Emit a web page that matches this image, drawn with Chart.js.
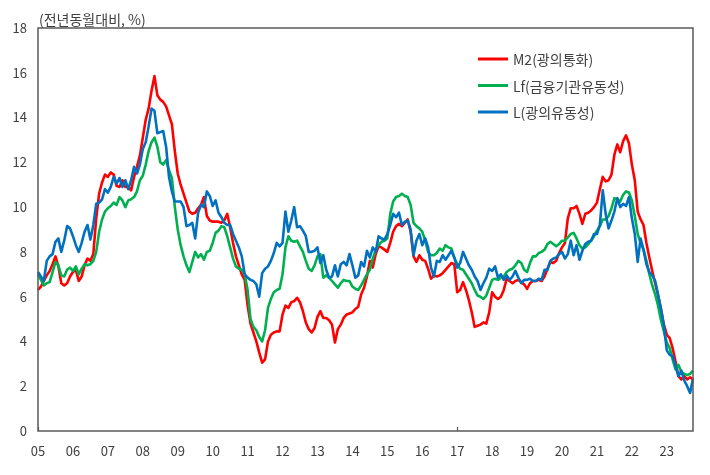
<!DOCTYPE html>
<html>
<head>
<meta charset="utf-8">
<script src="https://cdn.jsdelivr.net/npm/chart.js@4.4.0/dist/chart.umd.min.js"></script>
<style>
  html, body { margin: 0; padding: 0; background: #fff; }
  #wrap { width: 710px; height: 475px; }
</style>
</head>
<body>
<div id="wrap"><canvas id="moneyChart" width="710" height="475"></canvas></div>
<script>
// 연도 라벨 (2005.1 ~ 2023.10, 월별)
const yearLabels = ['05','06','07','08','09','10','11','12','13','14','15','16','17','18','19','20','21','22','23']

// M2(광의통화), 전년동월대비 %
const m2 = [
  6.3, 6.45, 6.7, 6.95, 7.15, 7.45, 7.8, 7.35, 6.6, 6.5, 6.6, 6.9,
  7.1, 7.2, 6.7, 6.9, 7.4, 7.7, 7.6, 7.9, 9.5, 10.6, 11.1, 11.45,
  11.35, 11.55, 11.45, 10.95, 10.9, 11.2, 10.9, 10.9, 10.75, 11.35, 11.8, 12.3,
  13.1, 13.9, 14.4, 15.2, 15.85, 15.0, 14.8, 14.7, 14.5, 14.1, 13.7, 12.5,
  11.5, 11.0, 10.6, 10.2, 9.8, 9.7, 9.75, 9.95, 10.1, 10.45, 9.6, 9.4,
  9.35, 9.35, 9.35, 9.3, 9.4, 9.7, 9.1, 8.4, 7.8, 7.4, 7.0, 6.75,
  5.6, 4.8, 4.4, 4.0, 3.5, 3.05, 3.2, 4.0, 4.3, 4.4, 4.45, 4.45,
  5.2, 5.6, 5.5, 5.75, 5.8, 5.95, 5.75, 5.35, 4.85, 4.55, 4.4, 4.6,
  5.1, 5.35, 5.05, 5.05, 4.95, 4.75, 3.95, 4.55, 4.75, 5.05, 5.2, 5.25,
  5.3, 5.45, 5.55, 6.1, 6.4, 6.9, 7.6, 7.3, 7.9, 8.25, 8.2, 8.1,
  8.0, 8.4, 8.9, 9.15, 9.25, 9.15, 9.3, 9.45, 8.9, 7.8, 7.55, 7.85,
  7.65, 7.6, 7.25, 6.8, 6.95, 6.9, 6.95, 7.05, 7.2, 7.35, 7.5, 7.45,
  6.2, 6.3, 6.65, 6.3, 5.85, 5.3, 4.65, 4.7, 4.75, 4.85, 4.8, 5.3,
  6.2, 6.0, 5.9, 6.0, 6.3, 6.8, 6.7, 6.6, 6.7, 6.75, 6.65, 6.55,
  6.35, 6.6, 6.7, 6.7, 6.75, 6.7, 6.9, 7.25, 7.55, 7.5, 7.6, 7.95,
  8.2, 8.4, 9.5, 9.95, 9.95, 10.05, 9.7, 9.25, 9.7, 9.75, 9.85, 10.0,
  10.2, 10.8, 11.35, 11.15, 11.2, 11.45, 12.35, 12.8, 12.45, 12.95, 13.2, 12.85,
  11.9, 11.2, 9.8, 9.45, 9.2, 8.4, 7.75, 7.15, 6.6, 6.05, 5.45, 4.75,
  4.3, 4.15, 3.7, 3.1, 2.45, 2.3, 2.45, 2.3, 2.4, 2.3
]

// Lf(금융기관유동성)
const lf = [
  7.0, 6.75, 6.5, 6.6, 6.65, 7.1, 7.55, 7.4, 6.95, 6.9, 7.2, 7.3,
  7.15, 7.35, 7.0, 7.25, 7.45, 7.4, 7.45, 7.6, 8.0, 8.9, 9.45, 9.8,
  9.95, 10.05, 10.2, 10.1, 10.45, 10.3, 10.0, 10.3, 10.35, 10.45, 10.7, 11.2,
  11.4, 11.9, 12.5, 12.9, 13.1, 12.7, 12.0, 11.9, 12.1, 11.65, 11.3, 10.0,
  9.0, 8.3, 7.8, 7.4, 7.1, 7.55, 8.0, 7.75, 7.9, 7.65, 8.0, 8.05,
  8.4, 8.85, 8.95, 9.15, 9.1, 8.7, 8.2, 7.7, 7.35, 7.25, 7.2, 7.0,
  6.3, 5.0, 4.65, 4.5, 4.2, 4.0, 4.5, 5.5, 5.9, 6.2, 6.3, 6.35,
  7.0, 8.2, 8.7, 8.5, 8.45, 8.5, 8.25, 8.0, 7.6, 7.25, 7.15, 7.4,
  7.8, 7.9, 6.85, 6.95, 6.85, 6.7, 6.55, 6.4, 6.6, 6.75, 6.7, 6.7,
  6.45, 6.35, 6.3, 6.5, 6.75, 7.0, 7.2, 7.7, 8.1, 8.3, 8.45, 8.5,
  8.6, 9.7, 10.25, 10.45, 10.5, 10.6, 10.5, 10.45, 10.1, 9.3, 9.15, 9.05,
  8.9, 8.5, 8.0, 7.85, 7.85, 7.95, 8.15, 8.05, 8.3, 8.2, 8.15, 7.75,
  7.45, 7.25, 7.2, 7.0, 6.8, 6.6, 6.3, 6.05, 6.0, 5.9, 6.05, 6.4,
  6.75, 6.8, 6.75, 6.85, 6.9, 7.1, 7.2, 7.25, 7.4, 7.6, 7.5, 7.2,
  7.1, 7.5, 7.8, 7.8, 7.95, 8.0, 8.1, 8.35, 8.45, 8.35, 8.25, 8.35,
  8.5, 8.5, 8.65, 8.8, 8.85, 8.6, 8.3, 8.15, 8.2, 8.35, 8.5, 8.7,
  8.95, 9.15, 9.45, 9.45, 9.6, 9.95, 10.4, 10.35, 10.25, 10.55, 10.7, 10.65,
  10.3, 9.6, 8.8, 8.4, 8.1, 7.6, 7.0, 6.5, 6.1, 5.6, 4.95, 4.45,
  3.95, 3.7, 3.2, 2.75, 2.95, 2.65, 2.55, 2.5, 2.55, 2.7
]

// L(광의유동성)
const lq = [
  7.1, 6.9, 6.7, 7.6, 7.8, 7.9, 8.45, 8.6, 8.0, 8.5, 9.15, 9.05,
  8.7, 8.3, 8.0, 8.4, 8.9, 9.2, 8.55, 9.2, 10.15, 10.2, 10.35, 10.8,
  10.65, 10.9, 11.35, 11.05, 11.3, 10.9, 11.2, 10.8, 11.2, 11.8, 11.5, 11.9,
  12.6, 12.9, 13.6, 14.4, 14.3, 13.3, 13.35, 13.4, 12.7, 11.35, 10.7, 10.25,
  10.25, 10.25, 10.0, 9.15, 9.2, 9.3, 8.6, 9.75, 10.1, 10.0, 10.7, 10.5,
  10.05, 10.3, 9.75, 9.55, 9.3, 9.2, 9.2, 8.8, 8.5, 8.2, 7.8, 7.0,
  6.85, 6.75, 6.7, 6.55, 6.0, 7.05, 7.25, 7.35, 7.6, 7.95, 8.4, 8.25,
  8.4, 9.8, 8.9, 9.4, 10.0, 9.1, 9.15, 8.95, 8.7, 8.0, 8.0, 8.05,
  8.2, 7.5, 7.85, 7.2, 6.85, 6.9, 7.4, 6.9, 7.45, 7.55, 7.4, 7.9,
  7.4, 6.85, 6.95, 7.55, 7.35, 8.05, 7.75, 8.2, 8.0, 8.7, 8.6, 8.55,
  8.8, 9.2, 9.7, 9.55, 9.75, 9.2, 9.35, 9.4, 9.0, 7.85, 8.5, 8.8,
  8.3, 8.6, 8.2, 7.3, 6.9, 7.6, 7.55, 7.85, 7.65, 7.85, 8.05, 7.75,
  7.3, 7.5, 8.0, 7.7, 7.4, 7.2, 6.9, 6.7, 6.3, 6.6, 6.85, 7.25,
  7.15, 7.35, 6.85, 7.0, 6.75, 6.95, 6.75, 6.9, 7.15, 6.85, 6.6, 6.75,
  6.75, 6.8, 6.7, 6.7, 6.8, 6.75, 7.2, 7.2, 7.6, 7.7, 7.75, 7.9,
  8.0, 7.7, 7.9, 8.5, 7.85, 8.3, 7.65, 8.05, 8.35, 8.45, 8.5, 8.8,
  8.8, 9.2, 10.75, 9.7, 9.05, 9.4, 9.8, 10.4, 10.0, 10.15, 10.05, 10.45,
  9.5, 8.8, 7.55, 8.6, 8.1, 7.45, 7.1, 6.95, 6.7, 6.1, 5.45, 4.7,
  3.6, 3.4, 3.35, 2.9, 2.45, 2.7, 2.25, 2.0, 1.7, 2.35
]

const seriesNames = ['M2(광의통화)', 'Lf(금융기관유동성)', 'L(광의유동성)']
const seriesColors = ['#ff0000', '#00b050', '#0070c0']
const yTitle = '(전년동월대비, %)'

// 월별 카테고리: 1월에만 연도 표기
const labels = []
yearLabels.forEach(y => { for (let k = 0; k < 12; k++) labels.push(k === 0 ? y : '') })
labels.length = m2.length

const FONT = '"Noto Sans CJK KR", "Open Sans", sans-serif'
const INK = '#404040'

// 외곽선, 안쪽 눈금, 범례, 축 제목
const framePlugin = {
  id: 'frame',
  afterDatasetsDraw(chart) {
    const { ctx, chartArea: a, scales: { x } } = chart
    ctx.save()
    ctx.strokeStyle = '#595959'
    ctx.lineWidth = 1.5
    ctx.strokeRect(a.left, a.top, a.right - a.left, a.bottom - a.top)

    ctx.lineWidth = 1.2
    ctx.beginPath()
    x.ticks.forEach((t, i) => {
      if (!labels[i]) return
      const px = Math.round(x.getPixelForTick(i)) + 0.5
      ctx.moveTo(px, a.bottom)
      ctx.lineTo(px, a.bottom - 4)
    })
    ctx.stroke()

    ctx.fillStyle = INK
    ctx.font = '14px ' + FONT
    ctx.textAlign = 'left'
    ctx.textBaseline = 'middle'
    ctx.fillText(yTitle, a.left + 1, 20)

    seriesNames.forEach((name, i) => {
      const ly = 59 + i * 26.5
      ctx.strokeStyle = seriesColors[i]
      ctx.lineWidth = 3
      ctx.beginPath()
      ctx.moveTo(478, ly)
      ctx.lineTo(508, ly)
      ctx.stroke()
      ctx.fillStyle = INK
      ctx.fillText(name, 513, ly + 1)
    })
    ctx.restore()
  }
}

const mkSet = (i, data, order) => ({
  label: seriesNames[i],
  data,
  borderColor: seriesColors[i],
  borderWidth: 2.6,
  borderJoinStyle: 'round',
  pointRadius: 0,
  tension: 0,
  fill: false,
  order
})

new Chart(document.getElementById('moneyChart'), {
  type: 'line',
  data: {
    labels,
    datasets: [mkSet(0, m2, 3), mkSet(1, lf, 2), mkSet(2, lq, 1)]
  },
  options: {
    responsive: false,
    animation: false,
    layout: { padding: { top: 28, right: 17, left: 0, bottom: 0 } },
    plugins: { legend: { display: false }, tooltip: { enabled: false } },
    scales: {
      x: {
        offset: false,
        grid: { display: false, drawTicks: false },
        border: { display: false },
        ticks: {
          autoSkip: false, maxRotation: 0, minRotation: 0, padding: 12,
          color: INK, font: { family: FONT, size: 13 },
          callback: (v, i) => labels[i] || null
        },
        afterFit: s => { s.height = 44 }
      },
      y: {
        min: 0, max: 18,
        grid: { display: false, drawTicks: false },
        border: { display: false },
        ticks: { stepSize: 2, padding: 11, color: INK, font: { family: FONT, size: 13 } },
        afterFit: s => { s.width = 38 }
      }
    }
  },
  plugins: [framePlugin]
})
</script>
</body>
</html>
